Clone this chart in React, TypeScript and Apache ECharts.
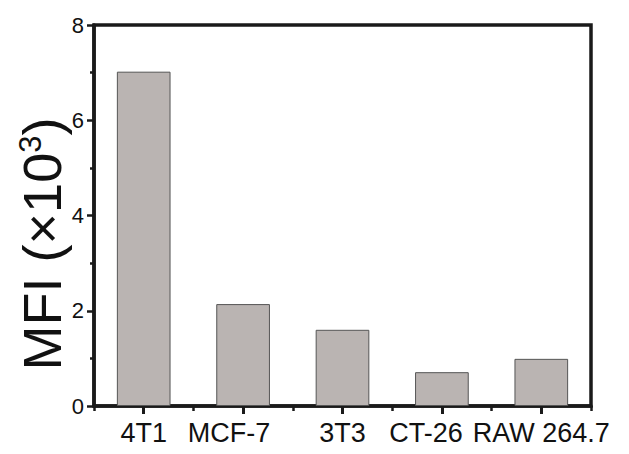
import React, { useEffect, useRef } from "react";
import * as echarts from "echarts";

const categories = ["4T1", "MCF-7", "3T3", "CT-26", "RAW 264.7"];
const mfiValues = [7.02, 2.14, 1.6, 0.71, 0.99];
const yTicks = { min: 0, max: 8, interval: 2 };
const yTitle = "MFI (×10{sup|3})";

export default function App() {
  const ref = useRef<HTMLDivElement>(null);
  useEffect(() => {
    if (!ref.current) return;
    const chart = echarts.init(ref.current, null, { renderer: "svg" });
    const font = "Liberation Sans, Arial, sans-serif";
    const labelStyle = (padRight: number) => ({
      fontSize: 27,
      fontFamily: font,
      color: "#111",
      padding: [0, padRight, 0, 0],
    });
    chart.setOption({
      animation: false,
      backgroundColor: "#ffffff",
      grid: {
        left: 94,
        right: 38,
        top: 25,
        bottom: 48,
        show: true,
        borderColor: "#1a1a1a",
        borderWidth: 3.5,
        containLabel: false,
      },
      graphic: [
        {
          type: "text",
          x: 42,
          y: 244,
          rotation: Math.PI / 2,
          style: {
            text: yTitle,
            font: `54px ${font}`,
            fill: "#111",
            align: "center",
            verticalAlign: "middle",
            rich: {
              sup: { fontSize: 31, fontFamily: font, fill: "#111", padding: [0, 0, 23, 0] },
            },
          },
        },
      ],
      xAxis: [
        {
          type: "category",
          data: categories,
          position: "bottom",
          axisLine: { show: true, lineStyle: { color: "#1a1a1a", width: 3.5 } },
          axisTick: { show: true, alignWithLabel: true, length: 8, lineStyle: { color: "#1a1a1a", width: 3 } },
          axisLabel: {
            color: "#111",
            fontSize: 27,
            fontFamily: font,
            margin: 13,
            interval: 0,
            hideOverlap: false,
            formatter: (v: string) => {
              if (v === "MCF-7") return `{a|${v}}`;
              if (v === "CT-26") return `{b|${v}}`;
              return `{n|${v}}`;
            },
            rich: {
              a: labelStyle(28),
              b: labelStyle(32),
              n: labelStyle(0),
            },
          },
          splitLine: { show: false },
        },
        {
          type: "category",
          data: categories,
          position: "bottom",
          axisLine: { show: false },
          axisTick: { show: true, length: 5, lineStyle: { color: "#1a1a1a", width: 2.5 } },
          axisLabel: { show: false },
          splitLine: { show: false },
        },
      ],
      yAxis: {
        type: "value",
        min: yTicks.min,
        max: yTicks.max,
        interval: yTicks.interval,
        axisLine: { show: true, lineStyle: { color: "#1a1a1a", width: 3.5 } },
        axisTick: { show: true, length: 7, lineStyle: { color: "#1a1a1a", width: 2.5 } },
        minorTick: { show: true, splitNumber: 2, length: 4, lineStyle: { color: "#1a1a1a", width: 2.5 } },
        axisLabel: { color: "#111", fontSize: 22, fontFamily: font, margin: 10 },
        splitLine: { show: false },
      },
      series: [
        {
          type: "bar",
          data: mfiValues,
          barWidth: "54%",
          itemStyle: { color: "#bab4b2", borderColor: "#555", borderWidth: 1 },
        },
      ],
    });
    return () => chart.dispose();
  }, []);
  return <div ref={ref} style={{ width: 629, height: 454, position: "absolute", left: 0, top: 0 }} />;
}
